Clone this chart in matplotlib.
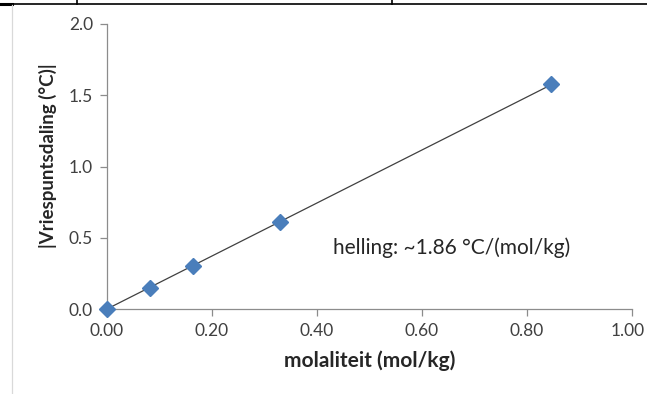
import matplotlib.pyplot as plt
from matplotlib.lines import Line2D
from matplotlib.transforms import ScaledTranslation

# data
molality = [0.0, 0.082, 0.164, 0.33, 0.846]
depression = [0.0, 0.147, 0.30, 0.61, 1.58]
slope = 1.86
x_ticks = [0.0, 0.2, 0.4, 0.6, 0.8, 1.0]
y_ticks = [0.0, 0.5, 1.0, 1.5, 2.0]

W, H = 647, 394
plt.rcParams['font.family'] = ['Lato', 'DejaVu Sans']

fig = plt.figure(figsize=(W / 100, H / 100), dpi=100)
ax = fig.add_axes([107 / W, 1 - 309 / H, (632 - 107) / W, (309 - 24) / H])

# trendline through origin
fit_x = [0.0, max(molality)]
fit_y = [slope * v for v in fit_x]
ax.plot(fit_x, fit_y, color='#404040', lw=0.9, zorder=2)
ax.plot(molality, depression, ls='none', marker='D', ms=8.5,
        color='#4a7ebb', mec='#4a7ebb', zorder=3, clip_on=False)

ax.set_xlim(0, 1.0)
ax.set_ylim(0, 2.0)
ax.set_xticks(x_ticks)
ax.set_xticklabels(['%.2f' % v for v in x_ticks])
ax.set_yticks(y_ticks)
ax.set_yticklabels(['%.1f' % v for v in y_ticks])

for s in ['top', 'right']:
    ax.spines[s].set_visible(False)
for s in ['left', 'bottom']:
    ax.spines[s].set_color('#8c8c8c')
    ax.spines[s].set_linewidth(0.9)
ax.tick_params(axis='both', direction='out', length=5, width=0.9,
               color='#8c8c8c', labelsize=12.5, labelcolor='#404040')
ax.tick_params(axis='x', pad=5)
ax.tick_params(axis='y', pad=5)

ax.set_xlabel('molaliteit (mol/kg)', fontsize=15, fontweight='bold',
              color='#262626', labelpad=8)
fig.text(48 / W, 1 - 156 / H, '|Vriespuntsdaling (°C)|', fontsize=13.5,
         fontweight='bold', color='#262626', rotation=90,
         ha='center', va='center')

ax.text(0.43, 0.43, 'helling: ~1.86 °C/(mol/kg)', fontsize=15,
        color='#262626', va='center', ha='left')

# keep the last x label inside the figure
last = ax.get_xticklabels()[-1]
last.set_transform(last.get_transform() +
                   ScaledTranslation(-4 / 100, 0, fig.dpi_scale_trans))

# table borders around the chart
def px_line(x0, y0, x1, y1, **kw):
    fig.add_artist(Line2D([x0 / W, x1 / W], [1 - y0 / H, 1 - y1 / H],
                          transform=fig.transFigure, **kw))

px_line(0, 3.5, W, 3.5, color='black', lw=1.2)
px_line(0, 4, 12, 4, color='black', lw=2.2)
px_line(77, 0, 77, 3.5, color='black', lw=1.2)
px_line(392, 0, 392, 3.5, color='black', lw=1.2)
px_line(12, 5, 12, H, color='#d9d9d9', lw=0.9)

fig.savefig('out.png', dpi=100)
